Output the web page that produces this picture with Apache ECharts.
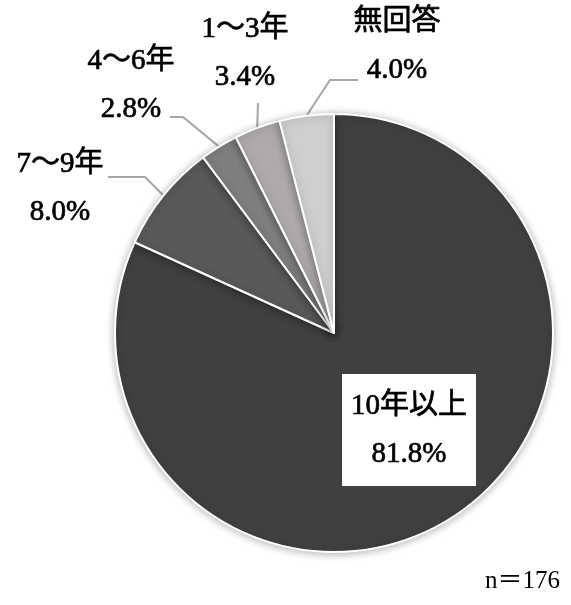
<!DOCTYPE html>
<html>
<head>
<meta charset="utf-8">
<script src="https://cdn.jsdelivr.net/npm/echarts@6/dist/echarts.min.js"></script>
<style>
  html, body { margin: 0; padding: 0; background: #fff; }
  #main { width: 571px; height: 605px; }
</style>
</head>
<body>
<div id="main"></div>
<script>
// 経験年数の内訳（%）
const categories = ['10年以上', '7～9年', '4～6年', '1～3年', '無回答'];
const values = [81.8, 8.0, 2.8, 3.4, 4.0];
const sampleSize = 176;

const colors = ['#404040', '#595959', '#7f7f7f', '#aeaaaa', '#d0cece'];
// ラベルの中心位置と、引き出し線の終点（ラベル中心からのずれ）・折れ位置
const labelPos = [[409, 430], [60, 188], [131, 85], [245, 53], [397, 46]];
const lineEnd = [null, [48, -11], [39, 32], [13, 50], [-39, 34]];
const elbowLen = [0, 37, 13, 0, -28];
const FONT = "'Liberation Serif', 'Noto Sans CJK JP', serif";

const chart = echarts.init(document.getElementById('main'));

const seriesData = categories.map((name, i) => {
  const item = { name: name, value: values[i], itemStyle: { color: colors[i] } };
  if (i === 0) {
    item.label = {
      position: 'inside',
      backgroundColor: '#fff',
      width: 116,
      padding: [6, 9, 10, 9]
    };
    item.labelLine = { show: false };
  }
  return item;
});

chart.setOption({
  animation: false,
  graphic: [
    {
      type: 'text',
      left: 0,
      top: -29,
      style: { text: '⑤経験年数', font: "bold 28px 'Noto Sans CJK JP'", fill: '#000' }
    },
    {
      type: 'text',
      right: 11,
      top: 569,
      style: { text: 'n＝' + sampleSize, font: "25px " + FONT, fill: '#000' }
    }
  ],
  series: [
    {
      type: 'pie',
      center: [334, 333],
      radius: 219,
      startAngle: 90,
      clockwise: true,
      data: seriesData,
      itemStyle: {
        borderColor: '#fff',
        borderWidth: 2,
        shadowBlur: 8,
        shadowColor: 'rgba(0,0,0,0.3)',
        shadowOffsetY: 1
      },
      label: {
        show: true,
        position: 'outside',
        color: '#000',
        fontFamily: FONT,
        fontSize: 29,
        lineHeight: 48,
        width: 130,
        overflow: 'none',
        align: 'center',
        textBorderColor: '#000',
        textBorderWidth: 0.7,
        formatter: (p) => p.name + '\n' + p.value.toFixed(1) + '%'
      },
      labelLine: {
        show: true,
        length: 20,
        length2: 12,
        lineStyle: { color: '#a6a6a6', width: 2 }
      },
      labelLayout: (params) => {
        const i = params.dataIndex;
        const pos = labelPos[i];
        const out = { x: pos[0], y: pos[1], align: 'center', verticalAlign: 'middle' };
        if (lineEnd[i] && params.labelLinePoints) {
          const start = params.labelLinePoints[0];
          const end = [pos[0] + lineEnd[i][0], pos[1] + lineEnd[i][1]];
          const elbow = [end[0] + elbowLen[i], end[1]];
          out.labelLinePoints = [start, elbow, end];
        }
        return out;
      },
      emphasis: { disabled: true }
    }
  ]
});
</script>
</body>
</html>
